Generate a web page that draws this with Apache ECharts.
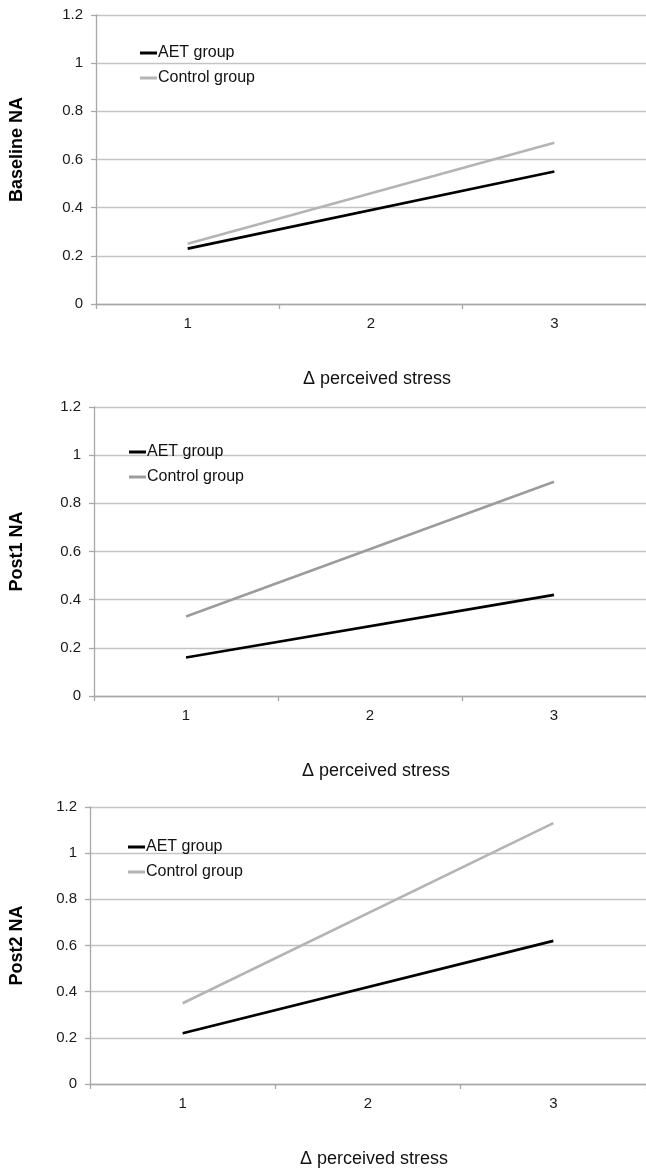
<!DOCTYPE html>
<html>
<head>
<meta charset="utf-8">
<script src="https://cdn.jsdelivr.net/npm/echarts@6/dist/echarts.min.js"></script>
<style>html,body{margin:0;padding:0;background:#fff}#c{width:646px;height:1169px}</style>
</head>
<body>
<div id="c"></div>
<script>
const categories = ['1', '2', '3'];
const yTicks = [0, 0.2, 0.4, 0.6, 0.8, 1, 1.2];
const panelNames = ['Baseline NA', 'Post1 NA', 'Post2 NA'];
const xName = 'Δ perceived stress';
// values at categories 1 and 3 (lines are straight between them)
const baselineAET = [0.23, null, 0.55];
const baselineControl = [0.25, null, 0.67];
const post1AET = [0.16, null, 0.42];
const post1Control = [0.33, null, 0.89];
const post2AET = [0.22, null, 0.62];
const post2Control = [0.35, null, 1.13];

const panels = [
  { name: panelNames[0], aet: baselineAET, ctl: baselineControl, left: 92, top: 15, width: 556, ctlColor: '#b4b4b4', legLeft: 135, legTop: 40, nameShift: 20 },
  { name: panelNames[1], aet: post1AET, ctl: post1Control, left: 90, top: 407, width: 561, ctlColor: '#9c9c9c', legLeft: 124, legTop: 439, nameShift: 0 },
  { name: panelNames[2], aet: post2AET, ctl: post2Control, left: 86, top: 807, width: 564, ctlColor: '#b4b4b4', legLeft: 123, legTop: 834, nameShift: 0 }
];
const font = '"Liberation Sans", Arial, sans-serif';
const grid = [], xAxis = [], yAxis = [], series = [], legend = [];
panels.forEach((p, i) => {
  grid.push({ left: p.left, top: p.top, width: p.width, height: 289, containLabel: false });
  xAxis.push({
    type: 'category', gridIndex: i, data: categories, boundaryGap: true,
    name: xName, nameLocation: 'middle', nameGap: 66,
    nameTextStyle: { fontFamily: font, fontSize: 18, color: '#111', padding: [0, 0, 0, 12] },
    axisLine: { lineStyle: { color: '#a8a8a8', width: 1.3 } },
    axisTick: { show: true, length: 5, alignWithLabel: false, lineStyle: { color: '#a8a8a8', width: 1.3 } },
    axisLabel: { fontFamily: font, fontSize: 15, color: '#1a1a1a', margin: 12 },
    splitLine: { show: false }
  });
  yAxis.push({
    type: 'value', gridIndex: i, min: yTicks[0], max: yTicks[yTicks.length - 1], interval: 0.2,
    name: p.name, nameLocation: 'middle', nameGap: p.left - 22,
    nameTextStyle: { fontFamily: font, fontSize: 18, fontWeight: 'bold', color: '#000', padding: [0, 0, 0, p.nameShift] },
    axisLine: { show: true, lineStyle: { color: '#a8a8a8', width: 1.3 } },
    axisTick: { show: true, length: 5, lineStyle: { color: '#a8a8a8', width: 1.3 } },
    axisLabel: { fontFamily: font, fontSize: 15, color: '#1a1a1a', margin: 13 },
    splitLine: { show: true, lineStyle: { color: '#c4c4c4', width: 1.3 } }
  });
  series.push({
    type: 'line', name: 'AET group|' + i, xAxisIndex: i, yAxisIndex: i, data: p.aet,
    connectNulls: true, symbol: 'none', lineStyle: { color: '#000', width: 2.6 }, itemStyle: { color: '#000' }
  });
  series.push({
    type: 'line', name: 'Control group|' + i, xAxisIndex: i, yAxisIndex: i, data: p.ctl,
    connectNulls: true, symbol: 'none', lineStyle: { color: p.ctlColor, width: 2.6 }, itemStyle: { color: p.ctlColor }
  });
  legend.push({
    data: ['AET group|' + i, 'Control group|' + i],
    orient: 'vertical', left: p.legLeft, top: p.legTop, itemGap: 9,
    icon: 'rect', itemWidth: 17, itemHeight: 3, selectedMode: false,
    formatter: n => n.split('|')[0],
    textStyle: { fontFamily: font, fontSize: 16, color: '#111', padding: [0, 0, 0, -4] }
  });
});
const chart = echarts.init(document.getElementById('c'), null, { renderer: 'canvas' });
chart.setOption({ animation: false, backgroundColor: '#fff', grid, xAxis, yAxis, series, legend });
</script>
</body>
</html>
